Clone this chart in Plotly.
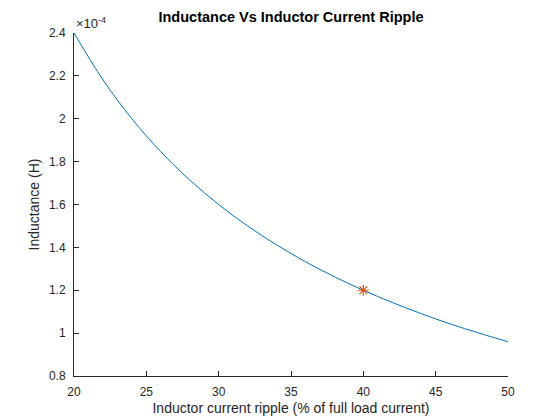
import plotly.graph_objects as go

# ripple (% of full load current) and inductance (H)
ripple = [20, 22, 24, 26, 28, 30, 32, 34, 36, 38, 40, 42, 44, 46, 48, 50]
inductance = [2.400e-4, 2.182e-4, 2.000e-4, 1.846e-4, 1.714e-4, 1.600e-4,
              1.500e-4, 1.412e-4, 1.333e-4, 1.263e-4, 1.200e-4, 1.143e-4,
              1.091e-4, 1.043e-4, 1.000e-4, 0.960e-4]

# chosen design point
sel_ripple = [40]
sel_inductance = [1.2e-4]

x_ticks = [20, 25, 30, 35, 40, 45, 50]
y_ticks = [0.8e-4, 1.0e-4, 1.2e-4, 1.4e-4, 1.6e-4, 1.8e-4, 2.0e-4, 2.2e-4, 2.4e-4]
y_labels = ["0.8", "1", "1.2", "1.4", "1.6", "1.8", "2", "2.2", "2.4"]

font = "Liberation Sans, Arial, sans-serif"

fig = go.Figure()
fig.add_trace(go.Scatter(x=ripple, y=inductance, mode="lines",
                         line=dict(color="#0072BD", width=1, shape="spline"),
                         showlegend=False))
fig.add_trace(go.Scatter(x=sel_ripple, y=sel_inductance, mode="markers",
                         marker=dict(symbol="asterisk", size=9,
                                     line=dict(color="#D95319", width=1.2)),
                         showlegend=False))

axis_style = dict(showline=True, linecolor="#262626", linewidth=1,
                  ticks="inside", ticklen=5, tickcolor="#262626",
                  showgrid=False, zeroline=False, automargin=False,
                  ticklabelstandoff=5,
                  tickfont=dict(family=font, size=12, color="#262626"))

fig.update_xaxes(range=[20, 50], tickvals=x_ticks,
                 title=dict(text="Inductor current ripple (% of full load current)",
                            font=dict(family=font, size=14, color="#262626"),
                            standoff=4),
                 **axis_style)
fig.update_yaxes(range=[0.8e-4, 2.4e-4], tickvals=y_ticks, ticktext=y_labels,
                 title=dict(text="Inductance (H)",
                            font=dict(family=font, size=14, color="#262626"),
                            standoff=6),
                 **axis_style)

# page body adds an 8px offset, so margins are shifted to compensate
fig.update_layout(
    width=560, height=420,
    margin=dict(l=66, r=60, t=25, b=52),
    paper_bgcolor="white", plot_bgcolor="white",
    title=dict(text="<b>Inductance Vs Inductor Current Ripple</b>",
               x=0.5, xref="paper", y=0.99, yanchor="top",
               font=dict(family=font, size=14.5, color="black")),
    annotations=[dict(text="\u00d710<sup>-4</sup>", xref="paper", yref="paper",
                      x=0, y=1, xanchor="left", yanchor="bottom",
                      showarrow=False,
                      font=dict(family=font, size=13, color="#262626"))],
)

fig.write_html("out.html")
